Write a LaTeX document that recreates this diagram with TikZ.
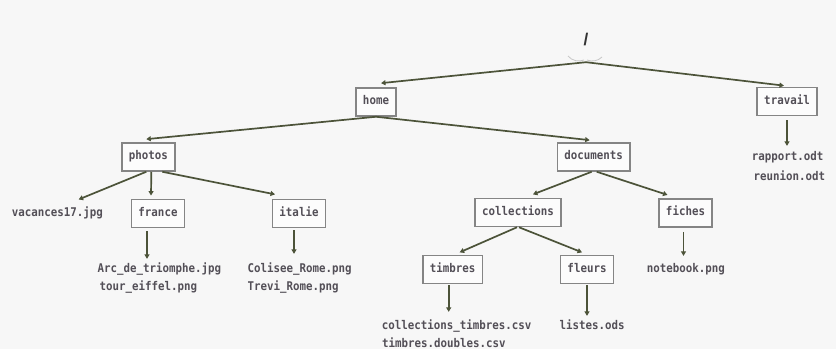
\documentclass[tikz,border=0pt]{standalone}
\usepackage{fontspec}
\newfontfamily\monof{DejaVu Sans Mono}[BoldFont={DejaVu Sans Mono Bold},FakeStretch=0.9]
\newfontfamily\slashf{Liberation Sans}
\usetikzlibrary{arrows.meta}
\definecolor{bgc}{HTML}{F7F7F7}
\definecolor{txc}{HTML}{534F57}
\definecolor{boxc}{HTML}{858585}
\definecolor{arc}{HTML}{4C5339}
\tikzset{
  dirbox/.style={draw=boxc, fill=white!60!bgc, line width=1.5pt, minimum height=28pt, inner xsep=7pt, inner ysep=0pt,
    font=\monof\bfseries\fontsize{12}{14}\selectfont, text=txc, text height=8pt, text depth=2.5pt},
  fname/.style={inner sep=0pt, anchor=west, font=\monof\bfseries\fontsize{12}{14}\selectfont,
    text=txc, text height=8pt, text depth=2.5pt},
  conn/.style={draw=arc, line width=1.7pt, -{Triangle[length=4.5pt,width=5pt]}, shorten >=1pt},
}
\begin{document}
\begin{tikzpicture}[x=1pt,y=-1pt]
\fill[bgc] (0,0) rectangle (836,349);
\useasboundingbox (0,0) rectangle (836,349);
% root
\node[inner sep=0pt, minimum height=44pt, font=\slashf\bfseries\fontsize{17}{17}\selectfont, text=black!80] (root) at (586,40) {/};
\draw[gray!45, line width=0.8pt] (568,56) .. controls (572,61) and (579,62) .. (584,60);
\draw[gray!45, line width=0.8pt] (587,60) .. controls (592,62) and (598,61) .. (602,57);
% directories
\node[dirbox] (home) at (376,102) {home};
\node[dirbox] (travail) at (787,101.5) {travail};
\node[dirbox] (photos) at (148.3,157) {photos};
\node[dirbox] (documents) at (593.7,157) {documents};
\node[dirbox] (france) at (158,213.3) {france};
\node[dirbox] (italie) at (299,213.3) {italie};
\node[dirbox] (collections) at (518,212.5) {collections};
\node[dirbox] (fiches) at (685.5,213) {fiches};
\node[dirbox] (timbres) at (452.7,269.5) {timbres};
\node[dirbox] (fleurs) at (587,269.5) {fleurs};
% files
\node[fname] (vac) at (11.7,213.3) {vacances17.jpg};
\node[fname] (arcf) at (97.3,269.3) {Arc\_de\_triomphe.jpg};
\node[fname] (tour) at (99.3,287.5) {tour\_eiffel.png};
\node[fname] (colis) at (247.3,269.3) {Colisee\_Rome.png};
\node[fname] (trevi) at (247.3,287.5) {Trevi\_Rome.png};
\node[fname] (rapport) at (751.7,157.3) {rapport.odt};
\node[fname] (reunion) at (753.5,177.3) {reunion.odt};
\node[fname] (notebook) at (646.7,269.3) {notebook.png};
\node[fname] (listes) at (559.3,326.3) {listes.ods};
\node[fname] (ct1) at (381.7,326.3) {collections\_timbres.csv};
\node[fname] (ct2) at (382,345) {timbres.doubles.csv};
% connectors
\draw[conn] (root.south) -- ([xshift=4pt,yshift=4pt]home.north);
\draw[conn] (root.south) -- ([xshift=-2pt,yshift=1pt]travail.north);
\draw[conn] (home.south) -- ([xshift=-3pt,yshift=3pt]photos.north);
\draw[conn] (home.south) -- ([xshift=-3pt,yshift=2pt]documents.north);
\draw[conn] ([xshift=-2pt]photos.south) -- ([xshift=66pt,yshift=8pt]vac.north west);
\draw[conn] ([xshift=3pt]photos.south) -- ([xshift=-7pt,yshift=2pt]france.north);
\draw[conn] ([xshift=14pt]photos.south) -- ([xshift=-23pt,yshift=4pt]italie.north);
\draw[conn] ([xshift=-2pt]documents.south) -- ([xshift=14pt,yshift=3pt]collections.north);
\draw[conn] ([xshift=3pt]documents.south) -- ([xshift=-17pt,yshift=3pt]fiches.north);
\draw[conn] ([xshift=-1pt]collections.south) -- ([xshift=6pt,yshift=2pt]timbres.north);
\draw[conn] ([xshift=1pt]collections.south) -- ([xshift=-4pt,yshift=2pt]fleurs.north);
\draw[conn] ([xshift=-11pt,yshift=-3pt]france.south) -- ([xshift=-11pt,yshift=4pt]france.south |- arcf.north);
\draw[conn] ([xshift=-5pt,yshift=-2pt]italie.south) -- ([xshift=-5pt,yshift=9pt]italie.south |- colis.north);
\draw[conn] ([xshift=-2pt,yshift=-4pt]fiches.south) -- ([xshift=-2pt,yshift=7pt]fiches.south |- notebook.north);
\draw[conn] ([yshift=-4pt]travail.south) -- ([yshift=5pt]travail.south |- rapport.north);
\draw[conn] ([xshift=-4pt,yshift=-1pt]timbres.south) -- ([xshift=-4pt,yshift=8pt]timbres.south |- ct1.north);
\draw[conn] ([yshift=-1pt]fleurs.south) -- ([yshift=4pt]fleurs.south |- listes.north);
\end{tikzpicture}
\end{document}
